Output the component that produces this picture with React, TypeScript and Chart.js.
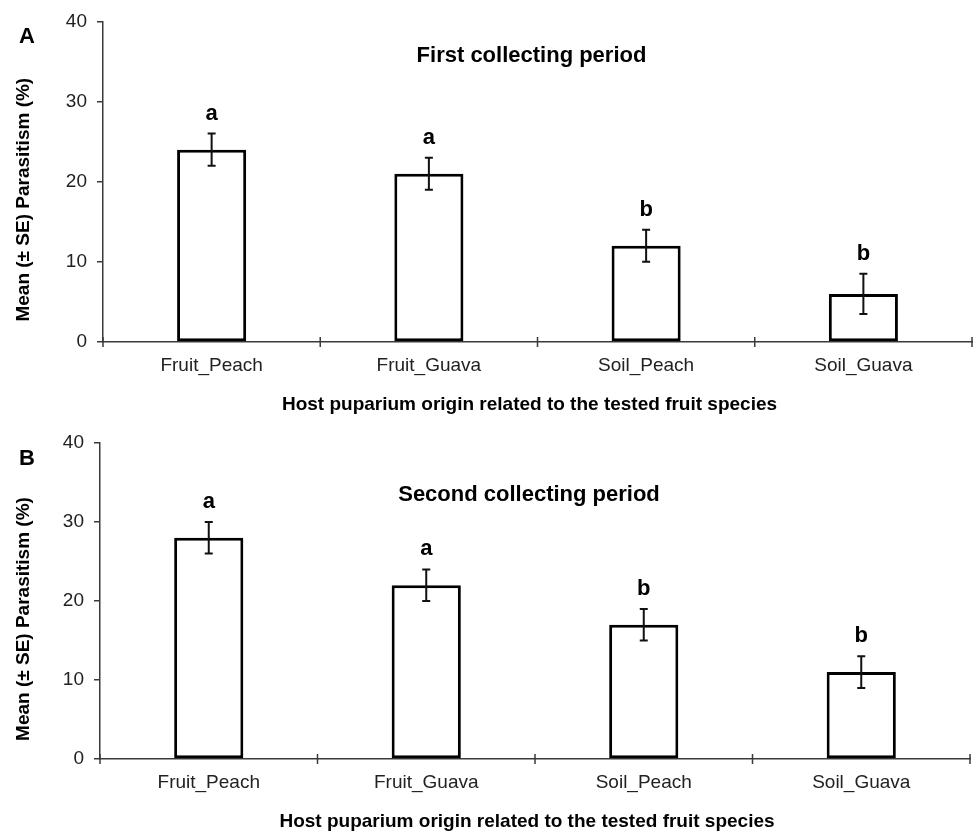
import React, { useEffect, useRef } from "react";
import { Chart, registerables } from "chart.js";

Chart.register(...registerables);

const categories = ["Fruit_Peach", "Fruit_Guava", "Soil_Peach", "Soil_Guava"];
const meansA = [24, 21, 12, 6];
const seA = [2, 2, 2, 2.5];
const lettersA = ["a", "a", "b", "b"];
const meansB = [28, 22, 17, 11];
const seB = [2, 2, 2, 2];
const lettersB = ["a", "a", "b", "b"];
const yMin = 0;
const yMax = 40;
const yStep = 10;
const titleA = "First collecting period";
const titleB = "Second collecting period";
const yTitle = "Mean (± SE) Parasitism (%)";
const xTitle = "Host puparium origin related to the tested fruit species";

const FONT = "'Liberation Sans', Arial, Helvetica, sans-serif";
const AXIS = "#3a3a3a";

type PanelProps = {
  means: number[];
  se: number[];
  letters: string[];
  title: string;
  panel: string;
  height: number;
  top: number;
  padTop: number;
  padRight: number;
  yWidth: number;
  xHeight: number;
  titleBaseline: number;
};

function Panel(p: PanelProps) {
  const ref = useRef<HTMLCanvasElement | null>(null);
  useEffect(() => {
    if (!ref.current) return;
    const overlay = {
      id: "overlay",
      afterDatasetsDraw(chart: any) {
        const ctx = chart.ctx;
        const y = chart.scales.y;
        const meta = chart.getDatasetMeta(0);
        ctx.save();
        ctx.strokeStyle = "#111";
        ctx.lineWidth = 2;
        p.means.forEach((m, i) => {
          const x = meta.data[i].x;
          const yt = y.getPixelForValue(m + p.se[i]);
          const yb = y.getPixelForValue(m - p.se[i]);
          ctx.beginPath();
          ctx.moveTo(x, yt);
          ctx.lineTo(x, yb);
          ctx.moveTo(x - 4, yt);
          ctx.lineTo(x + 4, yt);
          ctx.moveTo(x - 4, yb);
          ctx.lineTo(x + 4, yb);
          ctx.stroke();
          ctx.fillStyle = "#000";
          ctx.font = `bold 22px ${FONT}`;
          ctx.textAlign = "center";
          ctx.textBaseline = "alphabetic";
          ctx.fillText(p.letters[i], x, yt - 14);
        });
        ctx.restore();
      },
      afterDraw(chart: any) {
        const ctx = chart.ctx;
        const ca = chart.chartArea;
        const xs = chart.scales.x;
        ctx.save();
        // category boundary ticks crossing the axis
        ctx.strokeStyle = AXIS;
        ctx.lineWidth = 1.5;
        const n = categories.length;
        for (let i = 0; i <= n; i++) {
          const x = xs.left + (i * (xs.right - xs.left)) / n;
          ctx.beginPath();
          ctx.moveTo(x, ca.bottom - 5);
          ctx.lineTo(x, ca.bottom + 5);
          ctx.stroke();
        }
        ctx.fillStyle = "#000";
        // chart title
        ctx.font = `bold 22px ${FONT}`;
        ctx.textAlign = "center";
        ctx.textBaseline = "alphabetic";
        ctx.fillText(p.title, (ca.left + ca.right) / 2 - 6, p.titleBaseline);
        // panel letter
        ctx.textAlign = "left";
        ctx.fillText(p.panel, 19, p.padTop + 22);
        // x title
        ctx.font = `bold 19px ${FONT}`;
        ctx.textAlign = "center";
        ctx.textBaseline = "middle";
        ctx.fillText(xTitle, (ca.left + ca.right) / 2 - 8, ca.bottom + 63);
        // y title
        ctx.translate(24, (ca.top + ca.bottom) / 2 + 18);
        ctx.rotate(-Math.PI / 2);
        ctx.fillText(yTitle, 0, 0);
        ctx.restore();
      },
    };
    const chart = new Chart(ref.current, {
      type: "bar",
      data: {
        labels: categories,
        datasets: [
          {
            data: p.means,
            backgroundColor: "#ffffff",
            borderColor: "#000000",
            borderWidth: 3,
            borderSkipped: false,
            categoryPercentage: 1,
            barPercentage: 0.318,
          },
        ],
      },
      options: {
        animation: false,
        responsive: false,
        maintainAspectRatio: false,
        layout: { padding: { top: p.padTop, right: p.padRight, left: 0, bottom: 0 } },
        plugins: { legend: { display: false }, tooltip: { enabled: false }, title: { display: false } },
        scales: {
          x: {
            type: "category",
            offset: true,
            grid: { display: false, drawTicks: false },
            border: { display: true, color: AXIS, width: 1.5 },
            ticks: { color: "#222", font: { family: FONT, size: 19 }, padding: 12, maxRotation: 0, autoSkip: false },
            afterFit: (s: any) => {
              s.height = p.xHeight;
            },
          },
          y: {
            min: yMin,
            max: yMax,
            grid: { display: true, drawOnChartArea: false, drawTicks: true, tickLength: 6, color: AXIS, lineWidth: 1.5 },
            border: { display: true, color: AXIS, width: 1.5 },
            ticks: { stepSize: yStep, color: "#222", font: { family: FONT, size: 19 }, padding: 10 },
            afterFit: (s: any) => {
              s.width = p.yWidth;
            },
          },
        },
      },
      plugins: [overlay],
    });
    return () => chart.destroy();
  }, []);
  return (
    <canvas
      ref={ref}
      width={976}
      height={p.height}
      style={{ position: "absolute", left: 0, top: p.top, width: 976, height: p.height, display: "block" }}
    />
  );
}

export default function App() {
  return (
    <div style={{ position: "absolute", left: 0, top: 0, width: 976, height: 832, background: "#fff" }}>
      <Panel
        means={meansA}
        se={seA}
        letters={lettersA}
        title={titleA}
        panel="A"
        height={420}
        top={0}
        padTop={21}
        padRight={4}
        yWidth={103}
        xHeight={78}
        titleBaseline={62}
      />
      <Panel
        means={meansB}
        se={seB}
        letters={lettersB}
        title={titleB}
        panel="B"
        height={412}
        top={420}
        padTop={23}
        padRight={6}
        yWidth={100}
        xHeight={73}
        titleBaseline={81}
      />
    </div>
  );
}
